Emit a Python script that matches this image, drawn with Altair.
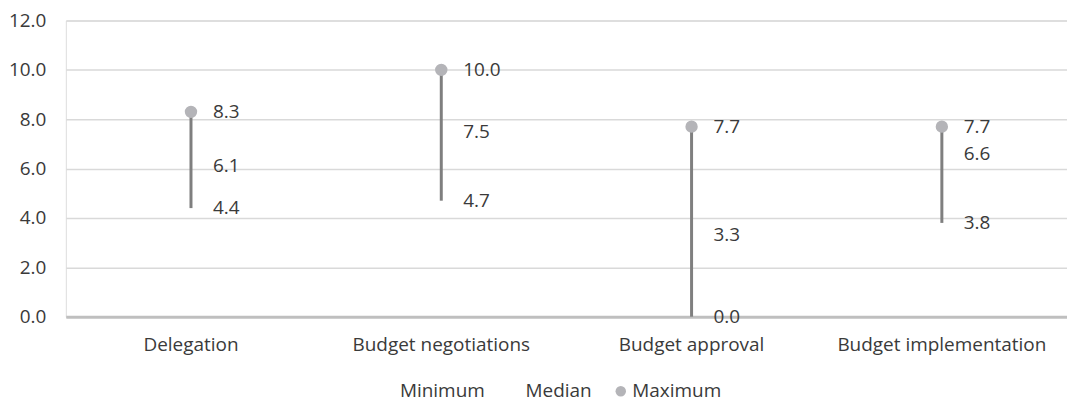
import altair as alt
import pandas as pd

categories = ["Delegation", "Budget negotiations", "Budget approval", "Budget implementation"]
minimum = [4.4, 4.7, 0.0, 3.8]
median = [6.1, 7.5, 3.3, 6.6]
maximum = [8.3, 10.0, 7.7, 7.7]
series_names = ["Minimum", "Median", "Maximum"]
y_ticks = [0, 2, 4, 6, 8, 10, 12]

df = pd.DataFrame({"category": categories, "Minimum": minimum,
                   "Median": median, "Maximum": maximum})
long = df.melt(id_vars="category", var_name="series", value_name="value")

FONT = "Open Sans"
TXT = "#3A3A3A"
FS = 19

x = alt.X("category:N", sort=categories,
          scale=alt.Scale(paddingInner=0, paddingOuter=0),
          axis=alt.Axis(title=None, labelAngle=0, ticks=False, grid=False,
                        domainColor="#BFBFBF", domainWidth=3,
                        labelPadding=19, labelFontSize=FS, labelLimit=400,
                        labelColor=TXT, labelFont=FONT))
yscale = alt.Scale(domain=[0, 12], nice=False)
yaxis = alt.Axis(title=None, values=y_ticks, format=".1f", ticks=False,
                 domain=False, gridColor="#D9D9D9", gridWidth=1.5,
                 labelPadding=20, labelFontSize=FS, labelColor=TXT,
                 labelFont=FONT)

rule = alt.Chart(df).mark_rule(color="#7F7F7F", strokeWidth=3).encode(
    x=x,
    y=alt.Y("Minimum:Q", scale=yscale, axis=yaxis),
    y2="Maximum:Q",
)

points = alt.Chart(df).transform_calculate(series="'Maximum'").mark_circle(
    size=154, opacity=1
).encode(
    x=x,
    y=alt.Y("Maximum:Q", scale=yscale),
    color=alt.Color("series:N",
                    scale=alt.Scale(domain=series_names,
                                    range=["rgba(0,0,0,0)", "rgba(0,0,0,0)", "#B4B4B8"]),
                    legend=alt.Legend(title=None, orient="none", direction="horizontal",
                                      legendX=314, legendY=362,
                                      labelFontSize=FS, labelFont=FONT,
                                      labelColor=TXT, symbolType="circle",
                                      symbolSize=110, symbolStrokeWidth=0,
                                      columnPadding=19, labelOffset=2)),
)

labels = alt.Chart(long).mark_text(
    align="left", baseline="middle", dx=22, fontSize=FS, font=FONT, color=TXT
).encode(
    x=x,
    y=alt.Y("value:Q", scale=yscale),
    text=alt.Text("value:Q", format=".1f"),
)

chart = alt.layer(rule, points, labels).properties(
    width=1004, height=297,
    padding={"left": 0, "top": 3, "right": 0, "bottom": 0},
).configure_view(stroke=None).configure(background="white")

chart.save("out.html", embed_options={"renderer": "svg", "actions": False})
